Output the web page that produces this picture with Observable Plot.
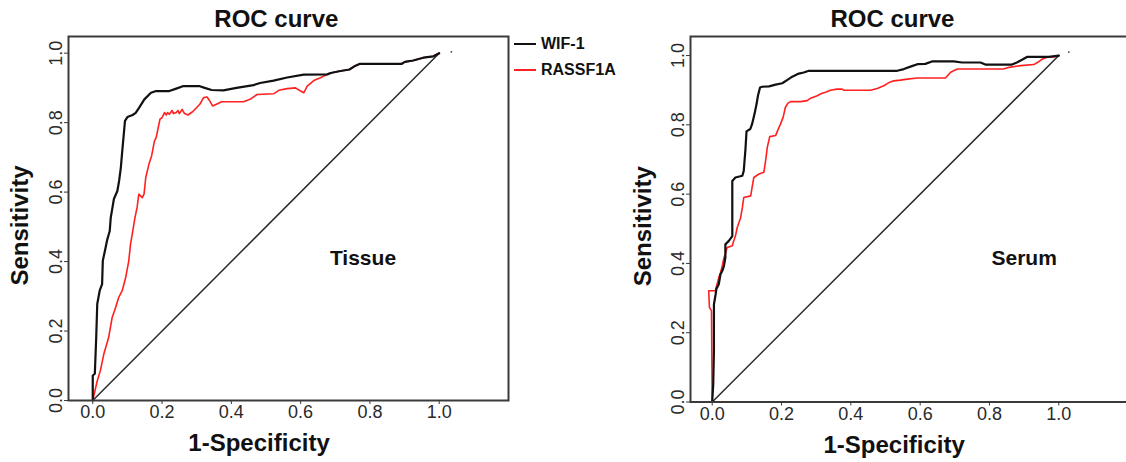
<!DOCTYPE html>
<html><head><meta charset="utf-8">
<script src="https://cdn.jsdelivr.net/npm/d3@7"></script>
<script src="https://cdn.jsdelivr.net/npm/@observablehq/plot@0.6"></script>
<style>
html,body{margin:0;padding:0;background:#fff;overflow:hidden;width:1126px;height:462px}
#wrap{position:relative;width:1126px;height:462px;font-family:Arial,"Liberation Sans",sans-serif;overflow:hidden}
.panel{position:absolute;top:0}
.panel svg{max-width:none !important}
#legend{position:absolute;left:514px;top:31px;font-weight:bold;font-size:16px;line-height:26px;color:#111}
.sw{display:inline-block;width:22px;height:0;border-top:2px solid;vertical-align:middle;margin-right:5px;position:relative;top:-1px}
</style></head>
<body>
<div id="wrap">
  <div id="left" class="panel" style="left:0;width:612px"></div>
  <div id="right" class="panel" style="left:612px;width:560px"></div>
  <div id="legend"></div>
</div>
<script>
// ---- data ----
const seriesNames = ["WIF-1", "RASSF1A"];
const seriesColors = ["#111111", "#ff2020"];
const xTicks = [0, 0.2, 0.4, 0.6, 0.8, 1.0];
const yTicks = [0, 0.2, 0.4, 0.6, 0.8, 1.0];
const diagX = [0, 1];
const diagY = [0, 1];

// Tissue panel
const tissueWifX = [0,0.000,0.006,0.010,0.013,0.020,0.027,0.029,0.037,0.042,0.049,0.052,0.057,0.061,0.071,0.076,0.081,0.084,0.093,0.100,0.115,0.124,0.134,0.149,0.168,0.183,0.221,0.241,0.260,0.309,0.323,0.343,0.377,0.415,0.464,0.483,0.522,0.561,0.609,0.677,0.687,0.711,0.741,0.755,0.770,0.891,0.901,0.925,0.954,0.983,1.0];
const tissueWifY = [0,0.072,0.077,0.182,0.278,0.316,0.335,0.402,0.440,0.464,0.488,0.527,0.556,0.580,0.603,0.632,0.670,0.705,0.805,0.816,0.822,0.828,0.843,0.867,0.886,0.891,0.891,0.898,0.905,0.905,0.900,0.894,0.893,0.900,0.908,0.914,0.921,0.930,0.938,0.939,0.943,0.948,0.953,0.962,0.969,0.969,0.975,0.979,0.987,0.991,1.0];
const tissueRasX = [0,0.013,0.022,0.032,0.046,0.056,0.066,0.075,0.085,0.095,0.104,0.109,0.114,0.122,0.128,0.133,0.143,0.148,0.153,0.162,0.170,0.178,0.183,0.187,0.194,0.200,0.207,0.212,0.216,0.221,0.229,0.233,0.241,0.246,0.250,0.258,0.265,0.275,0.289,0.309,0.320,0.330,0.338,0.346,0.357,0.372,0.435,0.454,0.474,0.522,0.537,0.561,0.585,0.600,0.609,0.619,0.638,0.657,0.677,0.687,0.711,0.741,0.755,0.770,0.891,0.901,0.925,0.954,0.983,1.0];
const tissueRasY = [0,0.057,0.086,0.134,0.182,0.239,0.268,0.297,0.316,0.354,0.402,0.450,0.479,0.527,0.556,0.594,0.584,0.594,0.642,0.680,0.705,0.747,0.757,0.776,0.810,0.814,0.829,0.822,0.829,0.824,0.835,0.826,0.829,0.835,0.826,0.838,0.826,0.822,0.832,0.853,0.872,0.874,0.862,0.848,0.853,0.860,0.860,0.867,0.881,0.883,0.893,0.898,0.900,0.891,0.886,0.905,0.921,0.929,0.939,0.943,0.948,0.953,0.962,0.969,0.969,0.975,0.979,0.987,0.991,1.0];

// Serum panel
const serumWifX = [0,0.003,0.005,0.005,0.010,0.012,0.019,0.024,0.029,0.034,0.038,0.038,0.048,0.058,0.058,0.067,0.087,0.091,0.096,0.099,0.110,0.115,0.122,0.128,0.132,0.138,0.144,0.164,0.183,0.202,0.216,0.231,0.250,0.264,0.279,0.534,0.553,0.572,0.592,0.615,0.634,0.697,0.721,0.774,0.788,0.865,0.879,0.894,0.908,0.971,1.0];
const serumWifY = [0,0.051,0.148,0.282,0.311,0.326,0.340,0.369,0.378,0.393,0.417,0.455,0.465,0.479,0.638,0.648,0.653,0.667,0.730,0.781,0.788,0.802,0.831,0.860,0.884,0.908,0.910,0.911,0.916,0.920,0.929,0.939,0.948,0.951,0.956,0.956,0.961,0.968,0.975,0.976,0.983,0.983,0.980,0.980,0.974,0.974,0.980,0.988,0.996,0.996,1.0];
const serumRasX = [0,-0.002,-0.008,-0.010,0.009,0.014,0.019,0.024,0.029,0.034,0.038,0.043,0.058,0.062,0.067,0.072,0.082,0.087,0.091,0.111,0.115,0.120,0.135,0.149,0.154,0.159,0.166,0.183,0.189,0.197,0.205,0.211,0.218,0.226,0.255,0.274,0.284,0.303,0.317,0.327,0.341,0.360,0.375,0.380,0.457,0.476,0.495,0.510,0.524,0.543,0.563,0.592,0.673,0.688,0.707,0.841,0.856,0.890,0.928,0.943,0.953,0.967,0.986,1.0];
const serumRasY = [0,0.263,0.273,0.321,0.321,0.340,0.359,0.374,0.393,0.417,0.427,0.446,0.451,0.465,0.479,0.503,0.532,0.561,0.590,0.595,0.619,0.648,0.658,0.663,0.696,0.735,0.766,0.769,0.784,0.802,0.823,0.850,0.862,0.867,0.867,0.870,0.877,0.884,0.891,0.894,0.900,0.903,0.903,0.900,0.900,0.905,0.913,0.922,0.927,0.929,0.932,0.935,0.935,0.952,0.961,0.961,0.966,0.971,0.974,0.983,0.990,0.995,0.996,1.0];

const endDotTissue = [[1.035, 1.004]];
const endDotSerum = [[1.029, 1.01]];

const font = 'Arial, "Liberation Sans", sans-serif';
const pairs = (xs, ys) => xs.map((x, i) => [x, ys[i]]);

function panel(o) {
  return Plot.plot({
    width: o.width, height: 462,
    marginLeft: o.marginLeft, marginRight: o.marginRight,
    marginTop: 36, marginBottom: o.marginBottom,
    style: {fontFamily: font, background: "transparent", color: "#2a2a2a", overflow: "visible"},
    x: {domain: o.xDomain},
    y: {domain: o.yDomain},
    marks: [
      Plot.line(pairs(diagX, diagY), {stroke: "#2a2a2a", strokeWidth: 1.5}),
      Plot.line(pairs(o.rx, o.ry), {stroke: seriesColors[1], strokeWidth: 1.6}),
      Plot.line(pairs(o.wx, o.wy), {stroke: seriesColors[0], strokeWidth: 2.2}),
      Plot.dot(o.dot, {r: 0.9, fill: "#333", stroke: null}),
      Plot.frame({stroke: "#3a3a3a", strokeWidth: 2}),
      Plot.axisX({ticks: xTicks, tickFormat: d3.format(".1f"), tickSize: 4, tickPadding: 1, fontSize: 18, label: null, stroke: "#3a3a3a"}),
      Plot.axisY({ticks: yTicks, tickFormat: d3.format(".1f"), tickSize: 4, tickPadding: 3, tickRotate: -90, fontSize: 18, label: null, stroke: "#3a3a3a"}),
      Plot.text(["ROC curve"], {x: () => o.titleX, frameAnchor: "top", lineAnchor: "middle", dy: -17, text: d => d, fontSize: 24, fontWeight: "bold", fill: "#111"}),
      Plot.text(["1-Specificity"], {x: () => o.xlabX, frameAnchor: "bottom", lineAnchor: "middle", dy: 43, text: d => d, fontSize: 24, fontWeight: "bold", fill: "#111"}),
      Plot.text(["Sensitivity"], {frameAnchor: "left", textAnchor: "middle", lineAnchor: "middle", dx: o.ylabDx, dy: 7, rotate: -90, text: d => d, fontSize: 24, fontWeight: "bold", fill: "#111"}),
      Plot.text([o.label], {x: () => o.labelX, y: () => o.labelY, text: d => d, fontSize: 21, fontWeight: "bold", fill: "#111"})
    ]
  });
}

document.getElementById("left").append(panel({
  width: 612, marginLeft: 68, marginRight: 104, marginBottom: 62,
  xDomain: [-0.07, 1.2], yDomain: [0, 1.048],
  wx: tissueWifX, wy: tissueWifY, rx: tissueRasX, ry: tissueRasY,
  dot: endDotTissue, titleX: 0.53, xlabX: 0.48, ylabDx: -48,
  label: "Tissue", labelX: 0.78, labelY: 0.41
}));

document.getElementById("right").append(panel({
  width: 560, marginLeft: 78, marginRight: 30, marginBottom: 60.5,
  xDomain: [-0.0626, 1.2415], yDomain: [0, 1.055],
  wx: serumWifX, wy: serumWifY, rx: serumRasX, ry: serumRasY,
  dot: endDotSerum, titleX: 0.52, xlabX: 0.525, ylabDx: -47,
  label: "Serum", labelX: 0.9, labelY: 0.416
}));

const legend = document.getElementById("legend");
seriesNames.forEach((name, i) => {
  const row = document.createElement("div");
  const sw = document.createElement("span");
  sw.className = "sw";
  sw.style.borderColor = seriesColors[i];
  row.append(sw, document.createTextNode(name));
  legend.append(row);
});
</script>
</body></html>
